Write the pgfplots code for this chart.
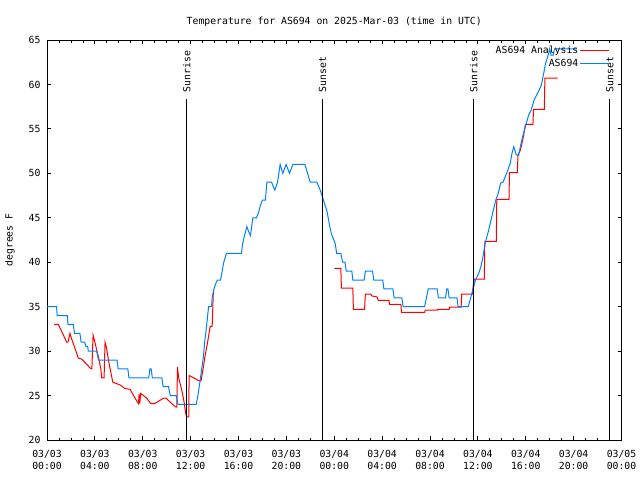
\documentclass[border=0pt]{standalone}
\usepackage{fontspec}
\setmainfont{DejaVu Sans Mono}
\usepackage{pgfplots}
\pgfplotsset{compat=1.18}
\definecolor{obsblue}{RGB}{0,128,255}
\newcommand{\gf}{\fontsize{9.8}{13}\selectfont}
\newcommand{\gx}{\fontsize{9.8}{12.4}\selectfont}
\begin{document}
\begin{tikzpicture}[font=\gf]
\path[use as bounding box] (0,0) rectangle (640pt,480pt);
\begin{axis}[
  at={(47pt,40pt)}, anchor=south west,
  scale only axis, width=574.5pt, height=400pt,
  xmin=0, xmax=48, ymin=20, ymax=65,
  xtick={0,4,...,48},
  xticklabels={03/03\\00:00,03/03\\04:00,03/03\\08:00,03/03\\12:00,03/03\\16:00,03/03\\20:00,03/04\\00:00,03/04\\04:00,03/04\\08:00,03/04\\12:00,03/04\\16:00,03/04\\20:00,03/05\\00:00},
  minor x tick num=3,
  ytick={20,25,...,65},
  major tick length=4pt, minor tick length=2.5pt,
  tick style={black, line width=0.8pt},
  axis line style={line width=0.8pt},
  /pgf/number format/assume math mode=true,
  xticklabel style={align=center, font=\gx, yshift=-6.5pt},
  yticklabel style={font=\gf, xshift=-3pt},
  title={Temperature for AS694 on 2025-Mar-03 (time in UTC)},
  title style={font=\gf, yshift=4pt},
  ylabel={degrees F},
  ylabel style={font=\gf, at={(axis description cs:-0.0644,0.5)}, anchor=center},
  unbounded coords=jump,
  legend style={draw=none, fill=none, at={(axis description cs:0.98,0.99)}, anchor=north east, font=\gf, row sep=0pt, inner sep=0pt, nodes={inner sep=1.5pt, text height=7.5pt, text depth=2.5pt}},
  legend cell align=right,
  legend plot pos=right,
  legend image code/.code={\draw[#1] (2pt,0pt) -- (31pt,0pt);},
]
\addplot[red, line width=1pt] coordinates {
(0.585,33) (0.95,33) (1.3,32) (1.65,31) (1.75,31) (1.92,32) (2.0,31.6) (2.34,30.3) (2.62,29.2) (2.9,29.1) (3.2,28.7) (3.6,28.1) (3.75,28) (3.85,31.8) (3.95,31.3) (4.3,29.3) (4.5,28) (4.57,27) (4.77,27) (4.85,31) (4.95,30.5) (5.2,28.5) (5.5,26.5) (6.1,26.2) (6.5,25.8) (6.94,25.7) (7.36,24.7) (7.64,24.1) (7.7,25.2) (7.75,24.1) (7.83,25.25) (8.33,24.7) (8.67,24.1) (9.0,24.1) (9.73,24.7) (9.95,24.7) (10.7,23.75) (10.85,23.7) (10.9,28.2) (11.0,27.0) (11.26,25.6) (11.45,24.3) (11.6,22.9) (11.68,22.6) (11.85,22.6) (11.87,27.25) (12.1,27.1) (12.65,26.7) (12.87,26.65) (13.07,28.25) (13.2,29.4) (13.43,31.1) (13.63,32.75) (13.8,32.8) (13.9,36.7)
(14.0,nan)
(24.02,39.3) (24.55,39.3) (24.6,37.1) (25.55,37.1) (25.6,34.7) (26.53,34.7) (26.6,36.4) (27.06,36.4) (27.15,36.2) (27.57,36.1) (27.62,35.9) (27.7,35.7) (28.57,35.7) (28.62,35.26) (29.57,35.26) (29.62,34.36) (31.55,34.36) (31.6,34.6) (32.6,34.6) (32.65,34.7) (33.6,34.7) (33.65,34.96) (34.6,34.96) (34.65,36.4) (35.56,36.4) (35.6,37.25) (35.7,38.1) (36.54,38.1) (36.58,42.35) (37.54,42.35) (37.58,47.07) (38.6,47.07) (38.64,50.07) (39.3,50.07) (39.35,52.06) (39.55,52.6) (39.8,54.1) (39.97,55.5) (40.6,55.5) (40.65,57.2) (41.55,57.2) (41.6,60.7) (42.67,60.7)
};
\addlegendentry{AS694 Analysis}
\addplot[obsblue, line width=1pt] coordinates {
(0,35) (0.8,35) (0.85,34) (1.7,34) (1.75,33) (2.2,33) (2.3,32) (2.75,32) (2.85,31) (3.15,31) (3.25,30.5) (3.4,30.5) (3.45,30) (4.15,30) (4.3,29) (5.85,29) (5.95,28) (6.75,28) (6.85,27) (8.5,27) (8.6,28) (8.7,28) (8.8,27) (9.6,27) (9.7,26) (10.15,26) (10.3,25) (10.8,25) (10.95,24) (12.46,24) (12.6,24.9) (12.8,26.75) (13.07,29.4) (13.18,31.1) (13.3,32.4) (13.5,35) (13.75,35) (13.8,36) (13.95,37) (14.1,37.6) (14.24,38) (14.5,38) (14.65,39.1) (14.75,39.9) (14.9,40.6) (15.0,41) (16.25,41) (16.35,42.1) (16.5,43) (16.7,44) (16.86,43.4) (17.0,43) (17.2,45) (17.5,45) (17.7,45.7) (17.8,46.25) (18.0,47) (18.25,47) (18.37,49) (18.76,49) (19.04,48.1) (19.26,49) (19.48,51) (19.7,50) (19.98,51) (20.26,50) (20.54,51) (21.55,51) (21.99,49) (22.55,49) (22.83,48.1) (23.05,47.2) (23.4,45.7) (23.6,44.2) (23.75,43.25) (24.08,42.1) (24.2,41) (24.55,41) (24.7,40) (24.9,40) (25.0,39) (25.47,39) (25.55,38) (26.5,38) (26.6,39) (27.2,39) (27.3,38) (28.05,38) (28.15,37) (28.9,37) (29.0,36) (29.65,36) (29.75,35) (31.55,35) (31.7,36) (31.85,37) (32.6,37) (32.7,36) (33.3,36) (33.4,37) (33.5,37) (33.6,36) (34.25,36) (34.35,35) (35.2,35) (35.4,36) (35.6,37) (35.8,38) (36.07,38.75) (36.25,39.5) (36.4,40.4) (36.6,42.1) (36.9,43.6) (37.1,44.75) (37.3,45.9) (37.5,47) (37.7,47.75) (37.9,48.9) (38.1,49) (38.4,50) (38.7,51.1) (38.85,52.25) (39.0,53) (39.2,52.1) (39.4,52) (39.55,53) (39.77,54.3) (40.0,55.4) (40.25,56.6) (40.45,57.1) (40.7,58.25) (40.98,59) (41.3,59.9) (41.5,61.25) (41.66,62.4) (41.83,63.1) (42.0,64) (42.1,63.3) (42.3,63.3) (42.4,64) (44.3,64)
};
\addlegendentry{AS694}
\addplot[black, line width=1pt, forget plot] coordinates {(11.68,20) (11.68,58.33)};
\addplot[black, line width=1pt, forget plot] coordinates {(23.02,20) (23.02,58.33)};
\addplot[black, line width=1pt, forget plot] coordinates {(35.65,20) (35.65,58.33)};
\addplot[black, line width=1pt, forget plot] coordinates {(47.02,20) (47.02,58.33)};
\node[rotate=90, anchor=west, inner sep=0pt, font=\gf] at (axis cs:11.68,59.1) {Sunrise};
\node[rotate=90, anchor=west, inner sep=0pt, font=\gf] at (axis cs:23.02,59.1) {Sunset};
\node[rotate=90, anchor=west, inner sep=0pt, font=\gf] at (axis cs:35.65,59.1) {Sunrise};
\node[rotate=90, anchor=west, inner sep=0pt, font=\gf] at (axis cs:47.02,59.1) {Sunset};
\end{axis}
\end{tikzpicture}
\end{document}
